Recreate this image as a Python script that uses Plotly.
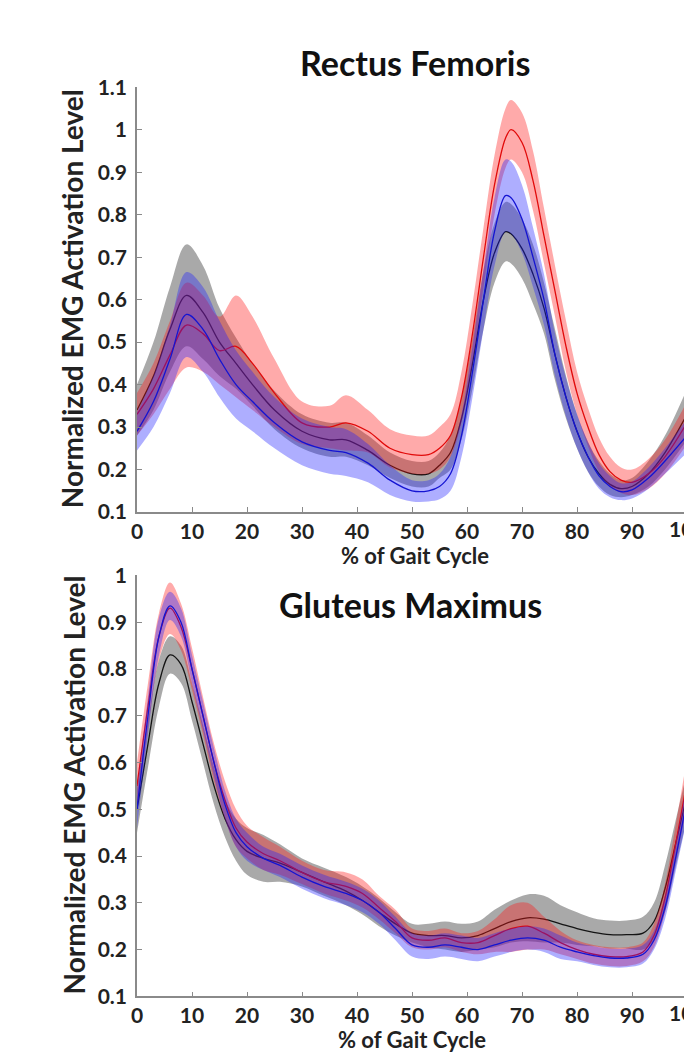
import plotly.graph_objects as go

# ---------------- data ----------------
# Rectus Femoris (top panel)
rf_x = [0, 3, 6, 9, 12, 15, 18, 21, 25, 30, 35, 38, 42, 46, 50, 53, 55, 57, 59, 61,
        63, 65, 67, 68, 70, 72, 74, 76, 78, 80, 82, 84, 86, 88, 90, 93, 96, 100]
rf_black_mean = [0.34, 0.42, 0.53, 0.61, 0.57, 0.50, 0.45, 0.40, 0.34, 0.29, 0.27, 0.27, 0.245, 0.21,
                 0.19, 0.19, 0.21, 0.24, 0.32, 0.45, 0.60, 0.71, 0.76, 0.755, 0.72, 0.66, 0.58,
                 0.47, 0.37, 0.29, 0.23, 0.19, 0.165, 0.155, 0.16, 0.19, 0.24, 0.33]
rf_black_sd = [0.06, 0.08, 0.10, 0.12, 0.11, 0.08, 0.06, 0.05, 0.045, 0.04, 0.04, 0.04, 0.035, 0.03,
               0.03, 0.03, 0.03, 0.04, 0.05, 0.06, 0.07, 0.07, 0.07, 0.07, 0.07, 0.07, 0.06,
               0.06, 0.05, 0.04, 0.035, 0.03, 0.025, 0.02, 0.02, 0.03, 0.04, 0.06]
rf_red_mean = [0.33, 0.39, 0.47, 0.54, 0.52, 0.48, 0.49, 0.45, 0.38, 0.31, 0.30, 0.31, 0.29, 0.25,
               0.235, 0.235, 0.25, 0.28, 0.37, 0.52, 0.70, 0.87, 0.98, 1.00, 0.97, 0.88, 0.75,
               0.62, 0.49, 0.38, 0.30, 0.235, 0.195, 0.175, 0.17, 0.19, 0.23, 0.31]
rf_red_sd = [0.05, 0.06, 0.08, 0.10, 0.09, 0.08, 0.12, 0.11, 0.08, 0.05, 0.05, 0.065, 0.05, 0.045,
             0.045, 0.045, 0.05, 0.05, 0.06, 0.07, 0.07, 0.07, 0.07, 0.07, 0.07, 0.07, 0.065,
             0.06, 0.06, 0.05, 0.045, 0.04, 0.035, 0.03, 0.03, 0.035, 0.04, 0.05]
rf_blue_mean = [0.29, 0.36, 0.46, 0.565, 0.53, 0.46, 0.40, 0.36, 0.31, 0.265, 0.245, 0.24, 0.215, 0.175,
                0.15, 0.15, 0.16, 0.19, 0.28, 0.43, 0.60, 0.76, 0.845, 0.84, 0.79, 0.70, 0.60,
                0.47, 0.37, 0.29, 0.23, 0.185, 0.16, 0.148, 0.152, 0.18, 0.22, 0.28]
rf_blue_sd = [0.045, 0.06, 0.08, 0.10, 0.10, 0.09, 0.08, 0.07, 0.06, 0.055, 0.055, 0.055, 0.045, 0.035,
              0.025, 0.025, 0.03, 0.04, 0.05, 0.06, 0.07, 0.08, 0.085, 0.085, 0.08, 0.07, 0.06,
              0.05, 0.045, 0.04, 0.035, 0.03, 0.025, 0.02, 0.02, 0.025, 0.03, 0.04]

# Gluteus Maximus (bottom panel)
gm_x = [0, 2, 4, 6, 8, 10, 12, 14, 16, 18, 20, 23, 26, 30, 34, 38, 41, 44, 47, 50,
        53, 56, 59, 62, 65, 68, 71, 74, 77, 80, 83, 86, 89, 92, 94, 96, 98, 100]
gm_black_mean = [0.50, 0.64, 0.77, 0.83, 0.81, 0.73, 0.64, 0.55, 0.48, 0.435, 0.41, 0.395, 0.385,
                 0.365, 0.345, 0.325, 0.305, 0.28, 0.255, 0.235, 0.23, 0.23, 0.225, 0.23, 0.245,
                 0.26, 0.268, 0.265, 0.255, 0.245, 0.237, 0.232, 0.232, 0.235, 0.26, 0.33, 0.43, 0.53]
gm_black_sd = [0.05, 0.05, 0.05, 0.04, 0.04, 0.04, 0.04, 0.04, 0.04, 0.045, 0.05, 0.05, 0.04,
               0.03, 0.03, 0.03, 0.03, 0.03, 0.025, 0.02, 0.025, 0.03, 0.03, 0.03, 0.04,
               0.045, 0.05, 0.05, 0.04, 0.035, 0.03, 0.03, 0.03, 0.035, 0.04, 0.05, 0.05, 0.05]
gm_red_mean = [0.55, 0.72, 0.87, 0.93, 0.89, 0.80, 0.70, 0.60, 0.52, 0.46, 0.43, 0.405, 0.39,
               0.365, 0.345, 0.335, 0.32, 0.29, 0.26, 0.225, 0.22, 0.225, 0.215, 0.215, 0.23,
               0.245, 0.25, 0.235, 0.215, 0.20, 0.19, 0.185, 0.185, 0.195, 0.23, 0.31, 0.43, 0.56]
gm_red_sd = [0.05, 0.05, 0.05, 0.055, 0.05, 0.045, 0.04, 0.04, 0.04, 0.04, 0.035, 0.035, 0.03,
             0.025, 0.025, 0.03, 0.03, 0.025, 0.025, 0.02, 0.02, 0.02, 0.02, 0.025, 0.035,
             0.05, 0.05, 0.035, 0.025, 0.02, 0.02, 0.02, 0.02, 0.02, 0.025, 0.03, 0.04, 0.05]
gm_blue_mean = [0.50, 0.70, 0.87, 0.935, 0.90, 0.80, 0.70, 0.60, 0.51, 0.45, 0.42, 0.395, 0.38,
                0.355, 0.335, 0.32, 0.305, 0.28, 0.245, 0.21, 0.205, 0.21, 0.205, 0.20, 0.21,
                0.22, 0.225, 0.22, 0.205, 0.195, 0.187, 0.182, 0.182, 0.19, 0.22, 0.29, 0.40, 0.52]
gm_blue_sd = [0.04, 0.04, 0.04, 0.03, 0.03, 0.03, 0.03, 0.03, 0.03, 0.03, 0.03, 0.025, 0.025,
              0.025, 0.025, 0.025, 0.025, 0.025, 0.025, 0.025, 0.025, 0.025, 0.025, 0.025, 0.025,
              0.025, 0.025, 0.025, 0.025, 0.02, 0.02, 0.02, 0.02, 0.02, 0.02, 0.025, 0.03, 0.04]

rf_yticks = [0.1, 0.2, 0.3, 0.4, 0.5, 0.6, 0.7, 0.8, 0.9, 1.0, 1.1]
rf_yticktext = ["0.1", "0.2", "0.3", "0.4", "0.5", "0.6", "0.7", "0.8", "0.9", "1", "1.1"]
gm_yticks = [0.1, 0.2, 0.3, 0.4, 0.5, 0.6, 0.7, 0.8, 0.9, 1.0]
gm_yticktext = ["0.1", "0.2", "0.3", "0.4", "0.5", "0.6", "0.7", "0.8", "0.9", "1"]
xticks = [0, 10, 20, 30, 40, 50, 60, 70, 80, 90]
titles = ["Rectus Femoris", "Gluteus Maximus"]
xtitle = "% of Gait Cycle"
ytitle = "Normalized EMG Activation Level"

# ---------------- styling ----------------
W, H = 684, 1063
LEFT = 137
PW = W - LEFT
X_MAX = 100 * PW / 550.0   # axis is cropped on the right in the reference
FONT = "Lato"
styles = {
    "black": dict(line="rgb(20,20,20)", fill="rgba(40,40,40,0.40)"),
    "red": dict(line="rgb(225,10,10)", fill="rgba(255,20,20,0.36)"),
    "blue": dict(line="rgb(20,20,210)", fill="rgba(30,30,255,0.36)"),
}

fig = go.Figure()


def add_series(x, mean, sd, key, xa, ya):
    st = styles[key]
    lo = [m - s for m, s in zip(mean, sd)]
    hi = [m + s for m, s in zip(mean, sd)]
    fig.add_trace(go.Scatter(x=x, y=lo, mode="lines", line=dict(width=0, shape="spline", smoothing=1.0),
                             hoverinfo="skip", showlegend=False, xaxis=xa, yaxis=ya))
    fig.add_trace(go.Scatter(x=x, y=hi, mode="lines", line=dict(width=0, shape="spline", smoothing=1.0),
                             fill="tonexty", fillcolor=st["fill"], hoverinfo="skip",
                             showlegend=False, xaxis=xa, yaxis=ya))
    fig.add_trace(go.Scatter(x=x, y=mean, mode="lines",
                             line=dict(color=st["line"], width=1.3, shape="spline", smoothing=1.0),
                             showlegend=False, xaxis=xa, yaxis=ya))


add_series(rf_x, rf_black_mean, rf_black_sd, "black", "x", "y")
add_series(rf_x, rf_red_mean, rf_red_sd, "red", "x", "y")
add_series(rf_x, rf_blue_mean, rf_blue_sd, "blue", "x", "y")
add_series(gm_x, gm_black_mean, gm_black_sd, "black", "x2", "y2")
add_series(gm_x, gm_red_mean, gm_red_sd, "red", "x2", "y2")
add_series(gm_x, gm_blue_mean, gm_blue_sd, "blue", "x2", "y2")

tickfont = dict(family=FONT, size=21, color="#222", weight="bold")
ytitlefont = dict(family=FONT, size=28, color="#222", weight="bold")
xtitlefont = dict(family=FONT, size=22, color="#222", weight="bold")
axcommon = dict(showgrid=False, zeroline=False, showline=True, linecolor="#8a8a8a", linewidth=1.5,
                ticks="inside", ticklen=5, tickcolor="#8a8a8a", tickwidth=1, tickfont=tickfont)

fig.update_layout(
    width=W, height=H,
    margin=dict(l=LEFT, r=0, t=0, b=0),
    paper_bgcolor="white", plot_bgcolor="white",
    xaxis=dict(domain=[0, 1], range=[0, X_MAX], anchor="y", tickvals=xticks,
               ticklabelstandoff=0, **axcommon),
    yaxis=dict(domain=[1 - 510 / H, 1 - 75 / H], range=[0.1, 1.1], anchor="x",
               tickvals=rf_yticks, ticktext=rf_yticktext, ticklabelstandoff=4, **axcommon),
    xaxis2=dict(domain=[0, 1], range=[0, X_MAX], anchor="y2", tickvals=xticks,
                ticklabelstandoff=0, **axcommon),
    yaxis2=dict(domain=[1 - 1006 / H, 1 - 575 / H], range=[0.1, 1.0], anchor="x2",
                tickvals=gm_yticks, ticktext=gm_yticktext, ticklabelstandoff=4, **axcommon),
)

# cropped "100" tick labels (partly outside the window, as in the reference)
for ya in ("y", "y2"):
    fig.add_annotation(text="100", xref="paper", yref=f"{ya} domain", x=100 / X_MAX, y=0,
                       yshift=-2, xanchor="center", yanchor="top", showarrow=False, font=tickfont)

# axis titles (positioned as in the reference)
for (cx, cy) in ((72, 292), (74, 790)):
    fig.add_annotation(text=ytitle, textangle=-90, xref="paper", yref="paper",
                       x=(cx - LEFT) / PW, y=1 - cy / H, xanchor="center", yanchor="middle",
                       showarrow=False, font=ytitlefont)
for (cx, cy) in ((415, 555), (412, 1050)):
    fig.add_annotation(text=xtitle, xref="paper", yref="paper",
                       x=(cx - LEFT) / PW, y=1 - cy / H, xanchor="center", yanchor="middle",
                       showarrow=False, font=xtitlefont)

# panel titles
for t, (cx, cy) in zip(titles, ((415, 50), (410, 605))):
    fig.add_annotation(text=t, xref="paper", yref="paper", x=(cx - LEFT) / PW,
                       y=1 - cy / H, xanchor="center", yanchor="middle", showarrow=False,
                       font=dict(family=FONT, size=34, color="#111", weight="bold"))

fig.write_html("out.html")
